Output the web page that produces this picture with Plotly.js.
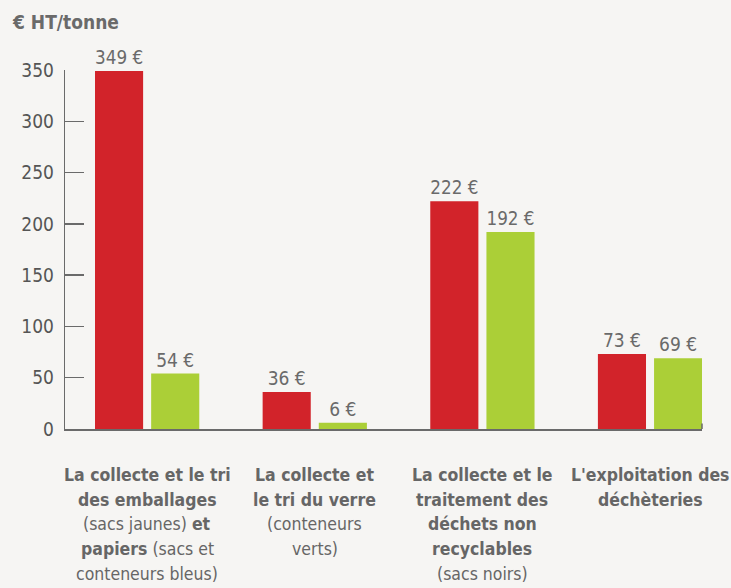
<!DOCTYPE html>
<html><head><meta charset="utf-8">
<script src="https://cdn.plot.ly/plotly-3.0.1.min.js"></script>
<style>html,body{margin:0;padding:0;background:#f6f5f3;}</style>
</head><body>
<div id="chart" style="width:731px;height:588px;"></div>
<script>
const categories = [0, 1, 2, 3];
const tickLabelLines = [
  ["<b>La collecte et le tri</b>", "<b>des emballages</b>", "(sacs jaunes) <b>et</b>", "<b>papiers</b> (sacs et", "conteneurs bleus)"],
  ["<b>La collecte et</b>", "<b>le tri du verre</b>", "(conteneurs", "verts)"],
  ["<b>La collecte et le</b>", "<b>traitement des</b>", "<b>déchets non</b>", "<b>recyclables</b>", "(sacs noirs)"],
  ["<b>L'exploitation des</b>", "<b>déchèteries</b>"]
];
const seriesRed = [349, 36, 222, 73];
const seriesGreen = [54, 6, 192, 69];
const yTicks = [0,50,100,150,200,250,300,350];

const FONT = "'DejaVu Sans Condensed','Liberation Sans Narrow','Roboto',sans-serif";
const fmt = v => v + " €";

const traces = [
  {type:'bar', x:categories, y:seriesRed, width:0.287, offset:-0.311,
   marker:{color:'#d2232a'}, text:seriesRed.map(fmt), textposition:'outside',
   textfont:{family:FONT,size:19,color:'#6a6a6a'}, cliponaxis:false, hoverinfo:'none'},
  {type:'bar', x:categories, y:seriesGreen, width:0.287, offset:0.024,
   marker:{color:'#abcf37'}, text:seriesGreen.map(fmt), textposition:'outside',
   textfont:{family:FONT,size:19,color:'#6a6a6a'}, cliponaxis:false, hoverinfo:'none'}
];

// layout geometry (styling)
const M = {l:65, r:29, t:70, b:159};
const H = 588, plotH = H - M.t - M.b;
const firstLineCenter = 475, lineStep = 24.7;

const annotations = [];
tickLabelLines.forEach((lines, ci) => {
  lines.forEach((txt, li) => {
    const cy = firstLineCenter + li * lineStep;
    annotations.push({
      text: txt, x: categories[ci], xref: 'x', xanchor: 'center',
      y: -(cy - (H - M.b)) / plotH, yref: 'paper', yanchor: 'middle',
      showarrow: false, font: {family: FONT, size: 17.5, color: '#666666'}
    });
  });
});

const layout = {
  width:731, height:588,
  paper_bgcolor:'#f6f5f3', plot_bgcolor:'#f6f5f3',
  margin:M,
  showlegend:false,
  barmode:'overlay',
  font:{family:FONT, color:'#5a5a5a'},
  title:{text:'<b>€ HT/tonne</b>', x:13/731, xanchor:'left', xref:'container', y:1-22/588, yref:'container', yanchor:'middle',
         font:{family:FONT, size:19, color:'#6a6a6a'}},
  xaxis:{range:[-0.49,3.31], tickmode:'array', tickvals:categories, showticklabels:false,
         showline:true, linecolor:'#6a6a6a', linewidth:1.5, ticks:'', showgrid:false, zeroline:false,
         fixedrange:true},
  yaxis:{range:[0,350], tickmode:'array', tickvals:yTicks, ticks:'inside', ticklen:19, tickcolor:'#6a6a6a', tickwidth:1.3,
         showline:true, linecolor:'#6a6a6a', linewidth:1.3, showgrid:false, zeroline:false,
         tickfont:{family:FONT, size:19, color:'#555555'}, ticklabelstandoff:6, fixedrange:true},
  annotations: annotations,
  shapes:[{type:'line', xref:'paper', yref:'paper', x0:1, x1:1, y0:0, y1:0.015, line:{color:'#6a6a6a', width:1.5}}]
};

Plotly.newPlot('chart', traces, layout, {displayModeBar:false, staticPlot:true});
</script>
</body></html>
